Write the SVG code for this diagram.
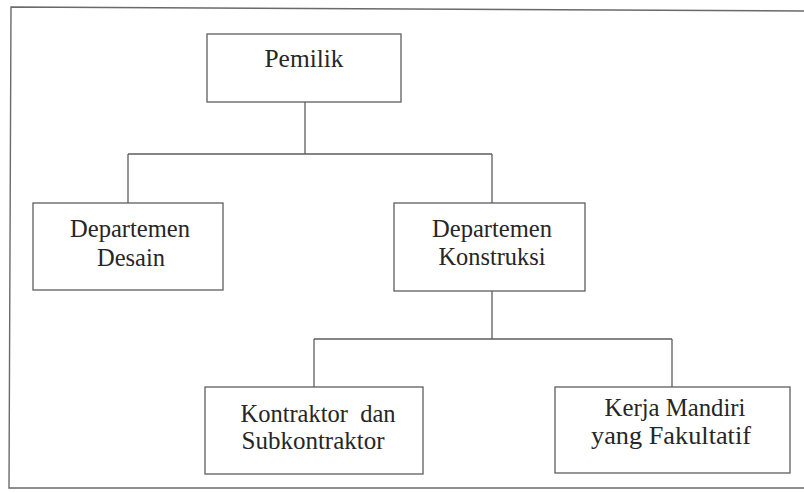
<svg xmlns="http://www.w3.org/2000/svg" width="804" height="493" viewBox="0 0 804 493">
  <style>
    .frame { fill: none; stroke: #6a6a6a; stroke-width: 1.4; }
    .box { fill: #ffffff; stroke: #5e5e5e; stroke-width: 1.3; }
    .conn { fill: none; stroke: #5e5e5e; stroke-width: 1.3; }
    .lbl { font-family: "Liberation Serif", serif; font-size: 25px; fill: #262626; text-anchor: middle; }
  </style>
  <rect x="0" y="0" width="804" height="493" fill="#ffffff"/>
  <path class="frame" d="M 806 11 L 11 7 L 9 488 L 806 488"/>

  <g id="connectors">
    <path class="conn" d="M 305 102 V 154 M 128 154 H 492 M 128 154 V 203 M 492 154 V 203"/>
    <path class="conn" d="M 492 291 V 339 M 314 339 H 672 M 314 339 V 387 M 672 339 V 387"/>
  </g>

  <g id="pemilik">
    <rect class="box" x="207" y="34" width="194" height="68"/>
    <text class="lbl" font-family="Liberation Serif" x="304" y="67" textLength="79" lengthAdjust="spacingAndGlyphs">Pemilik</text>
  </g>

  <g id="departemen-desain">
    <rect class="box" x="33" y="203" width="190" height="87"/>
    <text class="lbl" font-family="Liberation Serif" x="130" y="237" textLength="120" lengthAdjust="spacingAndGlyphs">Departemen</text>
    <text class="lbl" font-family="Liberation Serif" x="131" y="266" textLength="68" lengthAdjust="spacingAndGlyphs">Desain</text>
  </g>

  <g id="departemen-konstruksi">
    <rect class="box" x="394" y="203" width="191" height="88"/>
    <text class="lbl" font-family="Liberation Serif" x="492" y="237" textLength="120" lengthAdjust="spacingAndGlyphs">Departemen</text>
    <text class="lbl" font-family="Liberation Serif" x="492" y="265" textLength="107" lengthAdjust="spacingAndGlyphs">Konstruksi</text>
  </g>

  <g id="kontraktor">
    <rect class="box" x="205" y="387" width="218" height="87"/>
    <text class="lbl" font-family="Liberation Serif" xml:space="preserve" style="white-space: pre" x="318" y="422" textLength="155" lengthAdjust="spacingAndGlyphs">Kontraktor  dan</text>
    <text class="lbl" font-family="Liberation Serif" x="313" y="449" textLength="143" lengthAdjust="spacingAndGlyphs">Subkontraktor</text>
  </g>

  <g id="kerja-mandiri">
    <rect class="box" x="555" y="387" width="235" height="86"/>
    <text class="lbl" font-family="Liberation Serif" x="675" y="416" textLength="141" lengthAdjust="spacingAndGlyphs">Kerja Mandiri</text>
    <text class="lbl" font-family="Liberation Serif" x="671" y="444" textLength="160" lengthAdjust="spacingAndGlyphs">yang Fakultatif</text>
  </g>
</svg>
